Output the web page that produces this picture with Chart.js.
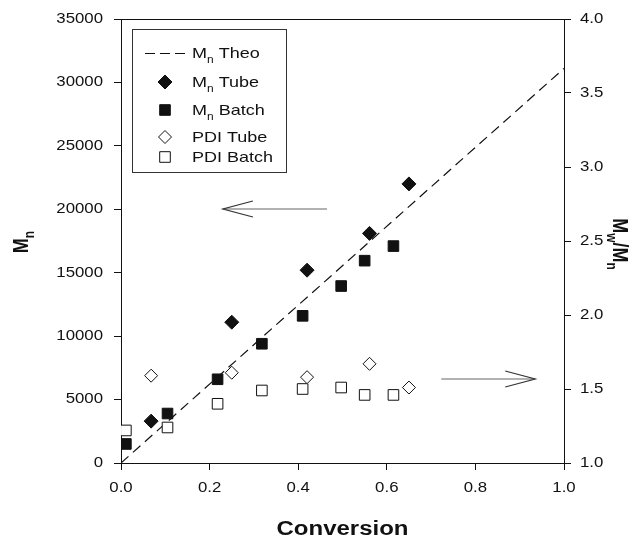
<!DOCTYPE html>
<html>
<head>
<meta charset="utf-8">
<script src="https://cdn.jsdelivr.net/npm/chart.js@4/dist/chart.umd.min.js"></script>
<style>
  html, body { margin: 0; padding: 0; background: #fff; }
  #wrap { position: relative; width: 636px; height: 539px; }
</style>
</head>
<body>
<div id="wrap"><canvas id="chart"></canvas></div>
<script>
  // theoretical Mn line
  var theoConversion = [0, 1.0];
  var theoMn = [0, 31100];

  // tube reactor samples
  var tubeConversion = [0.068, 0.25, 0.42, 0.561, 0.65];
  var tubeMn = [3300, 11100, 15200, 18100, 22000];
  var tubePdi = [1.59, 1.61, 1.58, 1.67, 1.51];

  // batch samples
  var batchConversion = [0.011, 0.105, 0.218, 0.318, 0.41, 0.497, 0.55, 0.615];
  var batchMn = [1500, 3900, 6600, 9400, 11600, 13950, 15950, 17100];
  var batchPdi = [1.22, 1.24, 1.40, 1.49, 1.50, 1.51, 1.46, 1.46];

  // arrows pointing to the axis each series belongs to (data units)
  var mnArrowX = [0.465, 0.23];
  var mnArrowY = 20000;
  var pdiArrowX = [0.723, 0.935];
  var pdiArrowY = 1.565;

  var ink = '#111';
  var stretch = 1.2; // the source figure is a bit wider than tall in its lettering
  var fontFamily = '"Liberation Sans", Arial, sans-serif';

  function pts(xs, ys) {
    return xs.map(function (x, i) {
      return { x: x, y: ys[i] };
    });
  }

  // draws text made of parts, some of them subscript
  function drawRich(ctx, parts, x, y, size, bold, rot, align) {
    var w = bold ? 'bold ' : '';
    var subSize = Math.round(size * 0.68);
    ctx.save();
    ctx.translate(x, y);
    ctx.scale(stretch, 1);
    ctx.rotate(rot || 0);
    ctx.textBaseline = 'alphabetic';
    ctx.fillStyle = ink;
    var total = 0;
    parts.forEach(function (p) {
      ctx.font = w + (p.sub ? subSize : size) + 'px ' + fontFamily;
      p.w = ctx.measureText(p.t).width;
      total += p.w;
    });
    var cx = align === 'left' ? 0 : -total / 2;
    var base = size * 0.36;
    parts.forEach(function (p) {
      ctx.font = w + (p.sub ? subSize : size) + 'px ' + fontFamily;
      ctx.fillText(p.t, cx, base + (p.sub ? size * 0.28 : 0));
      cx += p.w;
    });
    ctx.restore();
  }

  function drawArrow(ctx, x0, x1, y) {
    ctx.save();
    ctx.strokeStyle = '#999';
    ctx.lineWidth = 1.5;
    ctx.beginPath();
    ctx.moveTo(x0, y);
    ctx.lineTo(x1, y);
    ctx.stroke();
    var dir = x1 > x0 ? -1 : 1;
    ctx.strokeStyle = '#333';
    ctx.lineWidth = 1.2;
    ctx.beginPath();
    ctx.moveTo(x1 + dir * 30, y - 8);
    ctx.lineTo(x1, y);
    ctx.lineTo(x1 + dir * 30, y + 8);
    ctx.stroke();
    ctx.restore();
  }

  function marker(ctx, style, filled, x, y, r) {
    ctx.save();
    ctx.fillStyle = filled ? '#111' : '#fff';
    ctx.strokeStyle = filled ? '#111' : ink;
    ctx.lineWidth = 1;
    ctx.beginPath();
    if (style === 'rectRot') {
      ctx.moveTo(x - r, y);
      ctx.lineTo(x, y - r);
      ctx.lineTo(x + r, y);
      ctx.lineTo(x, y + r);
      ctx.closePath();
    } else {
      var s = r * Math.SQRT1_2;
      ctx.rect(x - s, y - s, 2 * s, 2 * s);
    }
    ctx.fill();
    ctx.stroke();
    ctx.restore();
  }

  var decorations = {
    id: 'decorations',
    afterDraw: function (chart) {
      var ctx = chart.ctx;
      var a = chart.chartArea;
      var sx = chart.scales.x, sy = chart.scales.y, sy1 = chart.scales.y1;

      // top frame line
      ctx.save();
      ctx.strokeStyle = ink;
      ctx.lineWidth = 1;
      ctx.beginPath();
      ctx.moveTo(a.left, Math.round(a.top) + 0.5);
      ctx.lineTo(a.right, Math.round(a.top) + 0.5);
      ctx.stroke();
      ctx.restore();

      // tick labels
      ctx.save();
      ctx.fillStyle = ink;
      ctx.font = '14px ' + fontFamily;
      ctx.textBaseline = 'middle';
      sx.ticks.forEach(function (t) {
        var px = sx.getPixelForValue(t.value);
        ctx.save();
        ctx.translate(px, 488);
        ctx.scale(stretch, 1);
        ctx.textAlign = 'center';
        ctx.fillText(Number(t.value).toFixed(1), 0, 0);
        ctx.restore();
      });
      sy.ticks.forEach(function (t) {
        var py = sy.getPixelForValue(t.value);
        ctx.save();
        ctx.translate(a.left - 18, py);
        ctx.scale(stretch, 1);
        ctx.textAlign = 'right';
        ctx.fillText(String(t.value), 0, 0);
        ctx.restore();
      });
      sy1.ticks.forEach(function (t) {
        var py = sy1.getPixelForValue(t.value);
        ctx.save();
        ctx.translate(a.right + 16, py);
        ctx.scale(stretch, 1);
        ctx.textAlign = 'left';
        ctx.fillText(Number(t.value).toFixed(1), 0, 0);
        ctx.restore();
      });
      ctx.restore();

      // axis titles
      drawRich(ctx, [{ t: 'Conversion' }], (a.left + a.right) / 2, 528, 20, true, 0);
      drawRich(ctx, [{ t: 'M' }, { t: 'n', sub: true }], 20, 242, 18, true, -Math.PI / 2);
      drawRich(ctx, [{ t: 'M' }, { t: 'w', sub: true }, { t: '/M' }, { t: 'n', sub: true }],
        621, 244, 18, true, Math.PI / 2);

      // arrows
      drawArrow(ctx, sx.getPixelForValue(mnArrowX[0]), sx.getPixelForValue(mnArrowX[1]),
        Math.round(sy.getPixelForValue(mnArrowY)));
      drawArrow(ctx, sx.getPixelForValue(pdiArrowX[0]), sx.getPixelForValue(pdiArrowX[1]),
        Math.round(sy1.getPixelForValue(pdiArrowY)));

      // legend box
      ctx.save();
      ctx.strokeStyle = '#333';
      ctx.lineWidth = 1;
      ctx.strokeRect(132.5, 29.5, 154, 143);
      ctx.strokeStyle = ink;
      ctx.setLineDash([10, 5]);
      ctx.beginPath();
      ctx.moveTo(145, 53.5);
      ctx.lineTo(186, 53.5);
      ctx.stroke();
      ctx.setLineDash([]);
      ctx.restore();
      marker(ctx, 'rectRot', true, 165, 82, 7);
      marker(ctx, 'rect', true, 165, 110, 7.5);
      marker(ctx, 'rectRot', false, 165, 137, 6.5);
      marker(ctx, 'rect', false, 165, 157, 7.5);
      var lx = 192;
      drawRich(ctx, [{ t: 'M' }, { t: 'n', sub: true }, { t: ' Theo' }], lx, 53, 15, false, 0, 'left');
      drawRich(ctx, [{ t: 'M' }, { t: 'n', sub: true }, { t: ' Tube' }], lx, 82, 15, false, 0, 'left');
      drawRich(ctx, [{ t: 'M' }, { t: 'n', sub: true }, { t: ' Batch' }], lx, 110, 15, false, 0, 'left');
      drawRich(ctx, [{ t: 'PDI Tube' }], lx, 137, 15, false, 0, 'left');
      drawRich(ctx, [{ t: 'PDI Batch' }], lx, 157, 15, false, 0, 'left');
    },
  };

  function axisGrid() {
    return { drawOnChartArea: false, drawTicks: true, tickLength: 7, color: ink, lineWidth: 1 };
  }

  new Chart(document.getElementById('chart'), {
    type: 'scatter',
    data: {
      datasets: [
        {
          label: 'Mn Theo',
          data: pts(theoConversion, theoMn),
          showLine: true,
          borderColor: ink,
          borderWidth: 1.2,
          borderDash: [10, 6],
          pointRadius: 0,
          yAxisID: 'y',
          order: 5,
        },
        {
          label: 'Mn Tube',
          data: pts(tubeConversion, tubeMn),
          pointStyle: 'rectRot',
          pointRadius: 7,
          backgroundColor: '#111',
          borderColor: '#111',
          borderWidth: 1,
          yAxisID: 'y',
          order: 1,
        },
        {
          label: 'Mn Batch',
          data: pts(batchConversion, batchMn),
          pointStyle: 'rect',
          pointRadius: 7.5,
          backgroundColor: '#111',
          borderColor: '#111',
          borderWidth: 1,
          yAxisID: 'y',
          order: 2,
        },
        {
          label: 'PDI Tube',
          data: pts(tubeConversion, tubePdi),
          pointStyle: 'rectRot',
          pointRadius: 6.5,
          backgroundColor: '#fff',
          borderColor: ink,
          borderWidth: 1,
          yAxisID: 'y1',
          order: 3,
        },
        {
          label: 'PDI Batch',
          data: pts(batchConversion, batchPdi),
          pointStyle: 'rect',
          pointRadius: 7.5,
          backgroundColor: '#fff',
          borderColor: ink,
          borderWidth: 1,
          yAxisID: 'y1',
          order: 4,
        },
      ],
    },
    options: {
      responsive: true,
      maintainAspectRatio: false,
      animation: false,
      events: [],
      layout: { padding: { top: 19, left: 0, right: 0, bottom: 0 } },
      plugins: { legend: { display: false }, tooltip: { enabled: false } },
      scales: {
        x: {
          type: 'linear',
          min: 0,
          max: 1,
          ticks: { stepSize: 0.2, display: false },
          grid: axisGrid(),
          border: { display: true, color: ink, width: 1 },
          afterFit: function (s) { s.height = 76; },
        },
        y: {
          type: 'linear',
          position: 'left',
          min: 0,
          max: 35000,
          ticks: { stepSize: 5000, display: false },
          grid: axisGrid(),
          border: { display: true, color: ink, width: 1 },
          afterFit: function (s) { s.width = 121; },
        },
        y1: {
          type: 'linear',
          position: 'right',
          min: 1,
          max: 4,
          ticks: { stepSize: 0.5, display: false },
          grid: axisGrid(),
          border: { display: true, color: ink, width: 1 },
          afterFit: function (s) { s.width = 72; },
        },
      },
    },
    plugins: [decorations],
  });
</script>
</body>
</html>
